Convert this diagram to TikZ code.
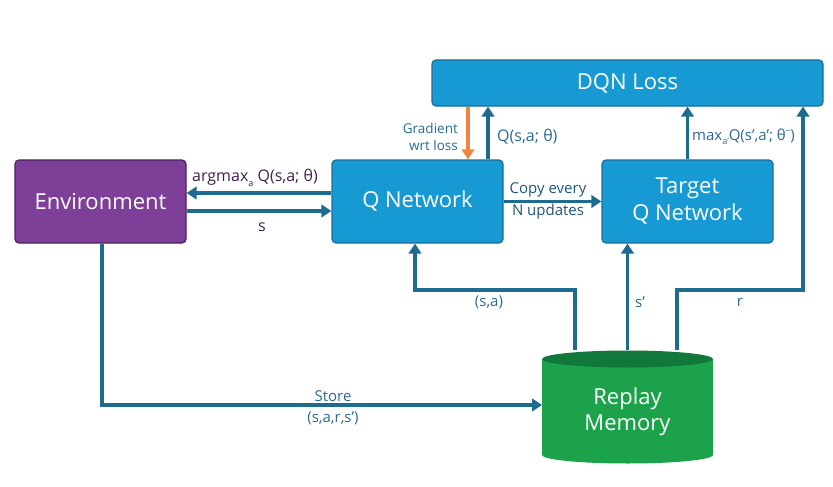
\documentclass[tikz,border=0pt]{standalone}
\usepackage{fontspec}
\setmainfont{Open Sans}
\usetikzlibrary{arrows.meta}
\definecolor{envfill}{HTML}{7D3F98}
\definecolor{envdraw}{HTML}{4B2160}
\definecolor{qfill}{HTML}{179AD3}
\definecolor{qdraw}{HTML}{1B6E96}
\definecolor{arrowc}{HTML}{1D6B8E}
\definecolor{gradc}{HTML}{F0853E}
\definecolor{lblblue}{HTML}{2A6A93}
\definecolor{lbldark}{HTML}{40214F}
\definecolor{copyc}{HTML}{1E5677}
\definecolor{memfill}{HTML}{1BA24B}
\definecolor{memtop}{HTML}{11773A}
\newcommand{\lo}[1]{\raisebox{-0.55ex}{\fontsize{9}{9}\selectfont #1}}
\begin{document}
\begin{tikzpicture}[x=1pt,y=-1pt,
  box/.style={rectangle, rounded corners=4pt, line width=1.2pt, text=white,
    font=\fontsize{22}{27}\selectfont, align=center, inner sep=0pt},
  envbox/.style={box, fill=envfill, draw=envdraw},
  qbox/.style={box, fill=qfill, draw=qdraw},
  arr/.style={draw=arrowc, line width=3.2pt,
    -{Triangle[length=10pt,width=12.5pt]}},
  gradarr/.style={arr, draw=gradc, fill=gradc},
  lbl/.style={text=lblblue, font=\fontsize{15}{20}\selectfont, inner sep=0pt, align=center},
  lbldk/.style={lbl, text=lbldark}]
\useasboundingbox (0,0) rectangle (833,487);

% main blocks
\node[envbox, minimum width=171pt, minimum height=83pt] (env) at (100.5,201.5) {Environment};
\node[qbox, minimum width=171pt, minimum height=83pt] (qn) at (417.5,201.5) {Q Network};
\node[qbox, minimum width=171pt, minimum height=83pt] (tq) at (687.5,201.5) {Target\\Q Network};
\node[qbox, minimum width=391pt, minimum height=46pt] (dqn) at (627.5,83) {DQN Loss};

% replay memory cylinder
\fill[memfill] (542,359) rectangle (713,455);
\fill[memfill] (627.5,455) ellipse [x radius=85.5pt, y radius=8.5pt];
\fill[memtop] (627.5,359) ellipse [x radius=85.5pt, y radius=8.5pt];
\node[text=white, font=\fontsize{22}{26}\selectfont, align=center, inner sep=0pt] (mem) at (627.5,412) {Replay\\Memory};
\coordinate (msa) at (575,350);
\coordinate (ms) at (627.5,350);
\coordinate (mr) at (677,350);
\coordinate (mw) at (542,405);

% agent <-> environment
\draw[arr] ([yshift=8.5pt]qn.west) -- ([yshift=8.5pt]env.east);
\draw[arr] ([yshift=-9.5pt]env.east) -- ([yshift=-9.5pt]qn.west);
\node[lbldk, font=\fontsize{16}{20}\selectfont] (lam) at (255,178) {argmax\lo{a} Q(s,a; θ)};
\node[lbldk, font=\fontsize{16}{20}\selectfont] (ls) at (262,227) {s};

% target network copy
\draw[arr] (qn.east) -- (tq.west);
\node[lbl, text=copyc, font=\fontsize{15}{22}\selectfont] (lcopy) at (548,201) {Copy every\\N updates};

% loss connections
\draw[gradarr] (468,0 |- dqn.south) -- (468,0 |- qn.north);
\draw[arr] (488,0 |- qn.north) -- (488,0 |- dqn.south);
\draw[arr] (tq.north) -- (tq.north |- dqn.south);
\node[lbl, align=right, anchor=east, font=\fontsize{13.5}{17}\selectfont] (lgrad) at (458,137) {Gradient\\wrt loss};
\node[lbl, anchor=west, font=\fontsize{16}{20}\selectfont] (lq) at (497,137) {Q(s,a; θ)};
\node[lbl, anchor=west] (lmax) at (692,137) {max\lo{a’}Q(s’,a’; θ\raisebox{0.9ex}{\fontsize{9}{9}\selectfont –})};

% samples from replay memory
\draw[arr] (msa) |- (415,290) -- (415,0 |- qn.south);
\draw[arr] (ms) -- (ms |- tq.south);
\draw[arr] (mr) |- (803,290) -- (803,0 |- dqn.south);
\node[lbl] (lsa) at (489,302) {(s,a)};
\node[lbl] (lsp) at (640,302) {s’};
\node[lbl] (lr) at (740,302) {r};

% storing transitions
\draw[arr] (102,0 |- env.south) |- (mw);
\node[lbl] (lst) at (333,396) {Store};
\node[lbl] (ltr) at (333,418) {(s,a,r,s’)};
\end{tikzpicture}
\end{document}
